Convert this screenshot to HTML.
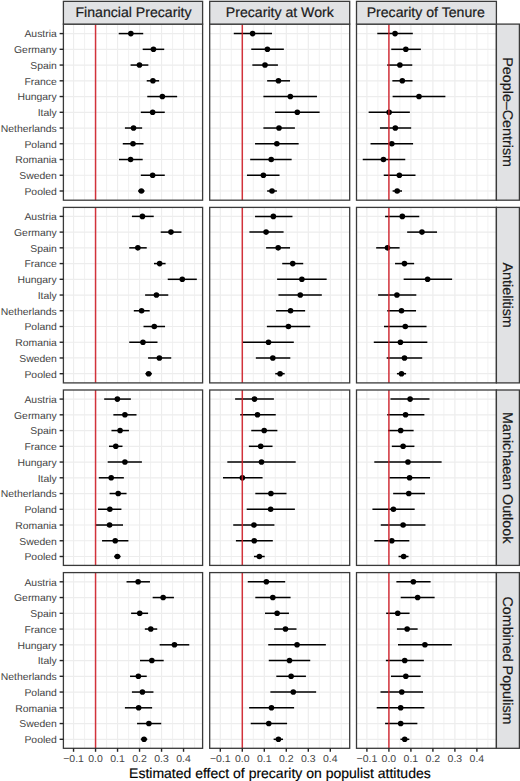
<!DOCTYPE html><html><head><meta charset="utf-8"><style>html,body{margin:0;padding:0;background:#fff;}svg{display:block;}text{font-family:"Liberation Sans",sans-serif;text-rendering:geometricPrecision;}</style></head><body>
<svg width="520" height="781" viewBox="0 0 520 781">
<rect x="0" y="0" width="520" height="781" fill="#fff"/>
<g stroke="#F1F1F1" stroke-width="0.9"><line x1="84.55" y1="24.1" x2="84.55" y2="200.2"/><line x1="106.55" y1="24.1" x2="106.55" y2="200.2"/><line x1="128.55" y1="24.1" x2="128.55" y2="200.2"/><line x1="150.55" y1="24.1" x2="150.55" y2="200.2"/><line x1="172.55" y1="24.1" x2="172.55" y2="200.2"/><line x1="194.55" y1="24.1" x2="194.55" y2="200.2"/></g>
<g stroke="#EDEDED" stroke-width="1.2"><line x1="73.55" y1="24.1" x2="73.55" y2="200.2"/><line x1="95.55" y1="24.1" x2="95.55" y2="200.2"/><line x1="117.55" y1="24.1" x2="117.55" y2="200.2"/><line x1="139.55" y1="24.1" x2="139.55" y2="200.2"/><line x1="161.55" y1="24.1" x2="161.55" y2="200.2"/><line x1="183.55" y1="24.1" x2="183.55" y2="200.2"/><line x1="63.4" y1="33.58" x2="202.6" y2="33.58"/><line x1="63.4" y1="49.32" x2="202.6" y2="49.32"/><line x1="63.4" y1="65.06" x2="202.6" y2="65.06"/><line x1="63.4" y1="80.81" x2="202.6" y2="80.81"/><line x1="63.4" y1="96.55" x2="202.6" y2="96.55"/><line x1="63.4" y1="112.29" x2="202.6" y2="112.29"/><line x1="63.4" y1="128.03" x2="202.6" y2="128.03"/><line x1="63.4" y1="143.77" x2="202.6" y2="143.77"/><line x1="63.4" y1="159.52" x2="202.6" y2="159.52"/><line x1="63.4" y1="175.26" x2="202.6" y2="175.26"/><line x1="63.4" y1="191" x2="202.6" y2="191"/></g>
<g stroke="#000" stroke-width="1.5"><line x1="118.73" y1="33.58" x2="143.23" y2="33.58"/><line x1="142.69" y1="49.32" x2="164.23" y2="49.32"/><line x1="130.58" y1="65.06" x2="148.35" y2="65.06"/><line x1="146.73" y1="80.81" x2="159.12" y2="80.81"/><line x1="147.27" y1="96.55" x2="177.15" y2="96.55"/><line x1="140.81" y1="112.29" x2="164.77" y2="112.29"/><line x1="124.92" y1="128.03" x2="142.15" y2="128.03"/><line x1="122.77" y1="143.77" x2="143.5" y2="143.77"/><line x1="119" y1="159.52" x2="142.69" y2="159.52"/><line x1="140.81" y1="175.26" x2="164.77" y2="175.26"/><line x1="138.12" y1="191" x2="144.58" y2="191"/></g>
<g fill="#000"><circle cx="130.85" cy="33.58" r="2.8"/><circle cx="153.46" cy="49.32" r="2.8"/><circle cx="139.46" cy="65.06" r="2.8"/><circle cx="152.92" cy="80.81" r="2.8"/><circle cx="162.35" cy="96.55" r="2.8"/><circle cx="152.65" cy="112.29" r="2.8"/><circle cx="133.54" cy="128.03" r="2.8"/><circle cx="133" cy="143.77" r="2.8"/><circle cx="130.58" cy="159.52" r="2.8"/><circle cx="152.65" cy="175.26" r="2.8"/><circle cx="141.35" cy="191" r="2.8"/></g>
<line x1="95.55" y1="24.1" x2="95.55" y2="200.2" stroke="#CE1822" stroke-width="1.5" stroke-opacity="0.88"/>
<rect x="63.4" y="24.1" width="139.2" height="176.1" fill="none" stroke="#3A3A3A" stroke-width="1.3"/>
<g stroke="#F1F1F1" stroke-width="0.9"><line x1="231.3" y1="24.1" x2="231.3" y2="200.2"/><line x1="253.3" y1="24.1" x2="253.3" y2="200.2"/><line x1="275.3" y1="24.1" x2="275.3" y2="200.2"/><line x1="297.3" y1="24.1" x2="297.3" y2="200.2"/><line x1="319.3" y1="24.1" x2="319.3" y2="200.2"/><line x1="341.3" y1="24.1" x2="341.3" y2="200.2"/></g>
<g stroke="#EDEDED" stroke-width="1.2"><line x1="220.3" y1="24.1" x2="220.3" y2="200.2"/><line x1="242.3" y1="24.1" x2="242.3" y2="200.2"/><line x1="264.3" y1="24.1" x2="264.3" y2="200.2"/><line x1="286.3" y1="24.1" x2="286.3" y2="200.2"/><line x1="308.3" y1="24.1" x2="308.3" y2="200.2"/><line x1="330.3" y1="24.1" x2="330.3" y2="200.2"/><line x1="209.7" y1="33.58" x2="349.7" y2="33.58"/><line x1="209.7" y1="49.32" x2="349.7" y2="49.32"/><line x1="209.7" y1="65.06" x2="349.7" y2="65.06"/><line x1="209.7" y1="80.81" x2="349.7" y2="80.81"/><line x1="209.7" y1="96.55" x2="349.7" y2="96.55"/><line x1="209.7" y1="112.29" x2="349.7" y2="112.29"/><line x1="209.7" y1="128.03" x2="349.7" y2="128.03"/><line x1="209.7" y1="143.77" x2="349.7" y2="143.77"/><line x1="209.7" y1="159.52" x2="349.7" y2="159.52"/><line x1="209.7" y1="175.26" x2="349.7" y2="175.26"/><line x1="209.7" y1="191" x2="349.7" y2="191"/></g>
<g stroke="#000" stroke-width="1.5"><line x1="233.77" y1="33.58" x2="272" y2="33.58"/><line x1="251.27" y1="49.32" x2="283.85" y2="49.32"/><line x1="252.35" y1="65.06" x2="277.92" y2="65.06"/><line x1="267.15" y1="80.81" x2="290.04" y2="80.81"/><line x1="263.38" y1="96.55" x2="316.96" y2="96.55"/><line x1="274.96" y1="112.29" x2="319.65" y2="112.29"/><line x1="263.38" y1="128.03" x2="294.88" y2="128.03"/><line x1="255.04" y1="143.77" x2="298.65" y2="143.77"/><line x1="250.19" y1="159.52" x2="291.65" y2="159.52"/><line x1="246.96" y1="175.26" x2="279.54" y2="175.26"/><line x1="267.15" y1="191" x2="276.85" y2="191"/></g>
<g fill="#000"><circle cx="252.62" cy="33.58" r="2.8"/><circle cx="267.42" cy="49.32" r="2.8"/><circle cx="265" cy="65.06" r="2.8"/><circle cx="278.46" cy="80.81" r="2.8"/><circle cx="290.31" cy="96.55" r="2.8"/><circle cx="297.31" cy="112.29" r="2.8"/><circle cx="279" cy="128.03" r="2.8"/><circle cx="276.85" cy="143.77" r="2.8"/><circle cx="271.19" cy="159.52" r="2.8"/><circle cx="263.38" cy="175.26" r="2.8"/><circle cx="272" cy="191" r="2.8"/></g>
<line x1="242.3" y1="24.1" x2="242.3" y2="200.2" stroke="#CE1822" stroke-width="1.5" stroke-opacity="0.88"/>
<rect x="209.7" y="24.1" width="140" height="176.1" fill="none" stroke="#3A3A3A" stroke-width="1.3"/>
<g stroke="#F1F1F1" stroke-width="0.9"><line x1="377.9" y1="24.1" x2="377.9" y2="200.2"/><line x1="399.9" y1="24.1" x2="399.9" y2="200.2"/><line x1="421.9" y1="24.1" x2="421.9" y2="200.2"/><line x1="443.9" y1="24.1" x2="443.9" y2="200.2"/><line x1="465.9" y1="24.1" x2="465.9" y2="200.2"/><line x1="487.9" y1="24.1" x2="487.9" y2="200.2"/></g>
<g stroke="#EDEDED" stroke-width="1.2"><line x1="366.9" y1="24.1" x2="366.9" y2="200.2"/><line x1="388.9" y1="24.1" x2="388.9" y2="200.2"/><line x1="410.9" y1="24.1" x2="410.9" y2="200.2"/><line x1="432.9" y1="24.1" x2="432.9" y2="200.2"/><line x1="454.9" y1="24.1" x2="454.9" y2="200.2"/><line x1="476.9" y1="24.1" x2="476.9" y2="200.2"/><line x1="356.5" y1="33.58" x2="496.4" y2="33.58"/><line x1="356.5" y1="49.32" x2="496.4" y2="49.32"/><line x1="356.5" y1="65.06" x2="496.4" y2="65.06"/><line x1="356.5" y1="80.81" x2="496.4" y2="80.81"/><line x1="356.5" y1="96.55" x2="496.4" y2="96.55"/><line x1="356.5" y1="112.29" x2="496.4" y2="112.29"/><line x1="356.5" y1="128.03" x2="496.4" y2="128.03"/><line x1="356.5" y1="143.77" x2="496.4" y2="143.77"/><line x1="356.5" y1="159.52" x2="496.4" y2="159.52"/><line x1="356.5" y1="175.26" x2="496.4" y2="175.26"/><line x1="356.5" y1="191" x2="496.4" y2="191"/></g>
<g stroke="#000" stroke-width="1.5"><line x1="377.27" y1="33.58" x2="412.81" y2="33.58"/><line x1="391.27" y1="49.32" x2="420.88" y2="49.32"/><line x1="387.23" y1="65.06" x2="412.27" y2="65.06"/><line x1="392.35" y1="80.81" x2="412.54" y2="80.81"/><line x1="392.62" y1="96.55" x2="445.38" y2="96.55"/><line x1="368.65" y1="112.29" x2="409.85" y2="112.29"/><line x1="379.96" y1="128.03" x2="411.19" y2="128.03"/><line x1="370.54" y1="143.77" x2="413.08" y2="143.77"/><line x1="362.73" y1="159.52" x2="405.27" y2="159.52"/><line x1="383.73" y1="175.26" x2="415.5" y2="175.26"/><line x1="392.62" y1="191" x2="402.04" y2="191"/></g>
<g fill="#000"><circle cx="395.04" cy="33.58" r="2.8"/><circle cx="405.81" cy="49.32" r="2.8"/><circle cx="399.88" cy="65.06" r="2.8"/><circle cx="402.31" cy="80.81" r="2.8"/><circle cx="419" cy="96.55" r="2.8"/><circle cx="389.12" cy="112.29" r="2.8"/><circle cx="395.31" cy="128.03" r="2.8"/><circle cx="391.81" cy="143.77" r="2.8"/><circle cx="383.46" cy="159.52" r="2.8"/><circle cx="399.35" cy="175.26" r="2.8"/><circle cx="397.19" cy="191" r="2.8"/></g>
<line x1="388.9" y1="24.1" x2="388.9" y2="200.2" stroke="#CE1822" stroke-width="1.5" stroke-opacity="0.88"/>
<rect x="356.5" y="24.1" width="139.9" height="176.1" fill="none" stroke="#3A3A3A" stroke-width="1.3"/>
<rect x="496.4" y="24.1" width="23" height="176.1" fill="#E1E2E4" stroke="#3A3A3A" stroke-width="1.3"/>
<text x="0" y="0" transform="translate(507.9 112.15) rotate(90) scale(1.022 1)" text-anchor="middle" font-size="14" fill="#1A1A1A" stroke="#1A1A1A" stroke-width="0.2" dy="5">People–Centrism</text>
<g stroke="#F1F1F1" stroke-width="0.9"><line x1="84.55" y1="207.4" x2="84.55" y2="382.9"/><line x1="106.55" y1="207.4" x2="106.55" y2="382.9"/><line x1="128.55" y1="207.4" x2="128.55" y2="382.9"/><line x1="150.55" y1="207.4" x2="150.55" y2="382.9"/><line x1="172.55" y1="207.4" x2="172.55" y2="382.9"/><line x1="194.55" y1="207.4" x2="194.55" y2="382.9"/></g>
<g stroke="#EDEDED" stroke-width="1.2"><line x1="73.55" y1="207.4" x2="73.55" y2="382.9"/><line x1="95.55" y1="207.4" x2="95.55" y2="382.9"/><line x1="117.55" y1="207.4" x2="117.55" y2="382.9"/><line x1="139.55" y1="207.4" x2="139.55" y2="382.9"/><line x1="161.55" y1="207.4" x2="161.55" y2="382.9"/><line x1="183.55" y1="207.4" x2="183.55" y2="382.9"/><line x1="63.4" y1="216.38" x2="202.6" y2="216.38"/><line x1="63.4" y1="232.11" x2="202.6" y2="232.11"/><line x1="63.4" y1="247.84" x2="202.6" y2="247.84"/><line x1="63.4" y1="263.58" x2="202.6" y2="263.58"/><line x1="63.4" y1="279.31" x2="202.6" y2="279.31"/><line x1="63.4" y1="295.04" x2="202.6" y2="295.04"/><line x1="63.4" y1="310.77" x2="202.6" y2="310.77"/><line x1="63.4" y1="326.5" x2="202.6" y2="326.5"/><line x1="63.4" y1="342.24" x2="202.6" y2="342.24"/><line x1="63.4" y1="357.97" x2="202.6" y2="357.97"/><line x1="63.4" y1="373.7" x2="202.6" y2="373.7"/></g>
<g stroke="#000" stroke-width="1.5"><line x1="131.92" y1="216.38" x2="153.73" y2="216.38"/><line x1="160.73" y1="232.11" x2="181.46" y2="232.11"/><line x1="129.23" y1="247.84" x2="146.73" y2="247.84"/><line x1="154" y1="263.58" x2="165.58" y2="263.58"/><line x1="167.73" y1="279.31" x2="196.81" y2="279.31"/><line x1="145.12" y1="295.04" x2="168.27" y2="295.04"/><line x1="133.81" y1="310.77" x2="149.69" y2="310.77"/><line x1="143.5" y1="326.5" x2="165.04" y2="326.5"/><line x1="129.23" y1="342.24" x2="157.5" y2="342.24"/><line x1="148.08" y1="357.97" x2="171.23" y2="357.97"/><line x1="145.38" y1="373.7" x2="151.85" y2="373.7"/></g>
<g fill="#000"><circle cx="142.42" cy="216.38" r="2.8"/><circle cx="170.96" cy="232.11" r="2.8"/><circle cx="137.85" cy="247.84" r="2.8"/><circle cx="159.65" cy="263.58" r="2.8"/><circle cx="182.27" cy="279.31" r="2.8"/><circle cx="156.42" cy="295.04" r="2.8"/><circle cx="141.62" cy="310.77" r="2.8"/><circle cx="154.27" cy="326.5" r="2.8"/><circle cx="142.96" cy="342.24" r="2.8"/><circle cx="159.38" cy="357.97" r="2.8"/><circle cx="148.62" cy="373.7" r="2.8"/></g>
<line x1="95.55" y1="207.4" x2="95.55" y2="382.9" stroke="#CE1822" stroke-width="1.5" stroke-opacity="0.88"/>
<rect x="63.4" y="207.4" width="139.2" height="175.5" fill="none" stroke="#3A3A3A" stroke-width="1.3"/>
<g stroke="#F1F1F1" stroke-width="0.9"><line x1="231.3" y1="207.4" x2="231.3" y2="382.9"/><line x1="253.3" y1="207.4" x2="253.3" y2="382.9"/><line x1="275.3" y1="207.4" x2="275.3" y2="382.9"/><line x1="297.3" y1="207.4" x2="297.3" y2="382.9"/><line x1="319.3" y1="207.4" x2="319.3" y2="382.9"/><line x1="341.3" y1="207.4" x2="341.3" y2="382.9"/></g>
<g stroke="#EDEDED" stroke-width="1.2"><line x1="220.3" y1="207.4" x2="220.3" y2="382.9"/><line x1="242.3" y1="207.4" x2="242.3" y2="382.9"/><line x1="264.3" y1="207.4" x2="264.3" y2="382.9"/><line x1="286.3" y1="207.4" x2="286.3" y2="382.9"/><line x1="308.3" y1="207.4" x2="308.3" y2="382.9"/><line x1="330.3" y1="207.4" x2="330.3" y2="382.9"/><line x1="209.7" y1="216.38" x2="349.7" y2="216.38"/><line x1="209.7" y1="232.11" x2="349.7" y2="232.11"/><line x1="209.7" y1="247.84" x2="349.7" y2="247.84"/><line x1="209.7" y1="263.58" x2="349.7" y2="263.58"/><line x1="209.7" y1="279.31" x2="349.7" y2="279.31"/><line x1="209.7" y1="295.04" x2="349.7" y2="295.04"/><line x1="209.7" y1="310.77" x2="349.7" y2="310.77"/><line x1="209.7" y1="326.5" x2="349.7" y2="326.5"/><line x1="209.7" y1="342.24" x2="349.7" y2="342.24"/><line x1="209.7" y1="357.97" x2="349.7" y2="357.97"/><line x1="209.7" y1="373.7" x2="349.7" y2="373.7"/></g>
<g stroke="#000" stroke-width="1.5"><line x1="255.04" y1="216.38" x2="292.46" y2="216.38"/><line x1="249.38" y1="232.11" x2="283.58" y2="232.11"/><line x1="266.08" y1="247.84" x2="290.04" y2="247.84"/><line x1="282.23" y1="263.58" x2="303.23" y2="263.58"/><line x1="277.12" y1="279.31" x2="326.65" y2="279.31"/><line x1="278.46" y1="295.04" x2="321.81" y2="295.04"/><line x1="276.04" y1="310.77" x2="305.12" y2="310.77"/><line x1="266.88" y1="326.5" x2="310.23" y2="326.5"/><line x1="242.65" y1="342.24" x2="293.81" y2="342.24"/><line x1="255.85" y1="357.97" x2="290.31" y2="357.97"/><line x1="275.23" y1="373.7" x2="284.65" y2="373.7"/></g>
<g fill="#000"><circle cx="273.35" cy="216.38" r="2.8"/><circle cx="266.08" cy="232.11" r="2.8"/><circle cx="278.19" cy="247.84" r="2.8"/><circle cx="292.73" cy="263.58" r="2.8"/><circle cx="301.88" cy="279.31" r="2.8"/><circle cx="300.27" cy="295.04" r="2.8"/><circle cx="290.58" cy="310.77" r="2.8"/><circle cx="288.42" cy="326.5" r="2.8"/><circle cx="268.5" cy="342.24" r="2.8"/><circle cx="272.81" cy="357.97" r="2.8"/><circle cx="280.08" cy="373.7" r="2.8"/></g>
<line x1="242.3" y1="207.4" x2="242.3" y2="382.9" stroke="#CE1822" stroke-width="1.5" stroke-opacity="0.88"/>
<rect x="209.7" y="207.4" width="140" height="175.5" fill="none" stroke="#3A3A3A" stroke-width="1.3"/>
<g stroke="#F1F1F1" stroke-width="0.9"><line x1="377.9" y1="207.4" x2="377.9" y2="382.9"/><line x1="399.9" y1="207.4" x2="399.9" y2="382.9"/><line x1="421.9" y1="207.4" x2="421.9" y2="382.9"/><line x1="443.9" y1="207.4" x2="443.9" y2="382.9"/><line x1="465.9" y1="207.4" x2="465.9" y2="382.9"/><line x1="487.9" y1="207.4" x2="487.9" y2="382.9"/></g>
<g stroke="#EDEDED" stroke-width="1.2"><line x1="366.9" y1="207.4" x2="366.9" y2="382.9"/><line x1="388.9" y1="207.4" x2="388.9" y2="382.9"/><line x1="410.9" y1="207.4" x2="410.9" y2="382.9"/><line x1="432.9" y1="207.4" x2="432.9" y2="382.9"/><line x1="454.9" y1="207.4" x2="454.9" y2="382.9"/><line x1="476.9" y1="207.4" x2="476.9" y2="382.9"/><line x1="356.5" y1="216.38" x2="496.4" y2="216.38"/><line x1="356.5" y1="232.11" x2="496.4" y2="232.11"/><line x1="356.5" y1="247.84" x2="496.4" y2="247.84"/><line x1="356.5" y1="263.58" x2="496.4" y2="263.58"/><line x1="356.5" y1="279.31" x2="496.4" y2="279.31"/><line x1="356.5" y1="295.04" x2="496.4" y2="295.04"/><line x1="356.5" y1="310.77" x2="496.4" y2="310.77"/><line x1="356.5" y1="326.5" x2="496.4" y2="326.5"/><line x1="356.5" y1="342.24" x2="496.4" y2="342.24"/><line x1="356.5" y1="357.97" x2="496.4" y2="357.97"/><line x1="356.5" y1="373.7" x2="496.4" y2="373.7"/></g>
<g stroke="#000" stroke-width="1.5"><line x1="385.08" y1="216.38" x2="419.27" y2="216.38"/><line x1="407.15" y1="232.11" x2="437.04" y2="232.11"/><line x1="376.19" y1="247.84" x2="399.62" y2="247.84"/><line x1="395.04" y1="263.58" x2="414.15" y2="263.58"/><line x1="403.65" y1="279.31" x2="452.12" y2="279.31"/><line x1="378.08" y1="295.04" x2="416.31" y2="295.04"/><line x1="387.23" y1="310.77" x2="416.04" y2="310.77"/><line x1="384" y1="326.5" x2="426.54" y2="326.5"/><line x1="373.77" y1="342.24" x2="427.35" y2="342.24"/><line x1="386.69" y1="357.97" x2="422.23" y2="357.97"/><line x1="396.92" y1="373.7" x2="406.08" y2="373.7"/></g>
<g fill="#000"><circle cx="402.31" cy="216.38" r="2.8"/><circle cx="421.96" cy="232.11" r="2.8"/><circle cx="387.5" cy="247.84" r="2.8"/><circle cx="404.46" cy="263.58" r="2.8"/><circle cx="427.62" cy="279.31" r="2.8"/><circle cx="396.92" cy="295.04" r="2.8"/><circle cx="401.5" cy="310.77" r="2.8"/><circle cx="405.27" cy="326.5" r="2.8"/><circle cx="400.42" cy="342.24" r="2.8"/><circle cx="404.46" cy="357.97" r="2.8"/><circle cx="401.5" cy="373.7" r="2.8"/></g>
<line x1="388.9" y1="207.4" x2="388.9" y2="382.9" stroke="#CE1822" stroke-width="1.5" stroke-opacity="0.88"/>
<rect x="356.5" y="207.4" width="139.9" height="175.5" fill="none" stroke="#3A3A3A" stroke-width="1.3"/>
<rect x="496.4" y="207.4" width="23" height="175.5" fill="#E1E2E4" stroke="#3A3A3A" stroke-width="1.3"/>
<text x="0" y="0" transform="translate(507.9 295.15) rotate(90) scale(1.022 1)" text-anchor="middle" font-size="14" fill="#1A1A1A" stroke="#1A1A1A" stroke-width="0.2" dy="5">Antielitism</text>
<g stroke="#F1F1F1" stroke-width="0.9"><line x1="84.55" y1="390" x2="84.55" y2="565.4"/><line x1="106.55" y1="390" x2="106.55" y2="565.4"/><line x1="128.55" y1="390" x2="128.55" y2="565.4"/><line x1="150.55" y1="390" x2="150.55" y2="565.4"/><line x1="172.55" y1="390" x2="172.55" y2="565.4"/><line x1="194.55" y1="390" x2="194.55" y2="565.4"/></g>
<g stroke="#EDEDED" stroke-width="1.2"><line x1="73.55" y1="390" x2="73.55" y2="565.4"/><line x1="95.55" y1="390" x2="95.55" y2="565.4"/><line x1="117.55" y1="390" x2="117.55" y2="565.4"/><line x1="139.55" y1="390" x2="139.55" y2="565.4"/><line x1="161.55" y1="390" x2="161.55" y2="565.4"/><line x1="183.55" y1="390" x2="183.55" y2="565.4"/><line x1="63.4" y1="399.08" x2="202.6" y2="399.08"/><line x1="63.4" y1="414.82" x2="202.6" y2="414.82"/><line x1="63.4" y1="430.56" x2="202.6" y2="430.56"/><line x1="63.4" y1="446.31" x2="202.6" y2="446.31"/><line x1="63.4" y1="462.05" x2="202.6" y2="462.05"/><line x1="63.4" y1="477.79" x2="202.6" y2="477.79"/><line x1="63.4" y1="493.53" x2="202.6" y2="493.53"/><line x1="63.4" y1="509.27" x2="202.6" y2="509.27"/><line x1="63.4" y1="525.02" x2="202.6" y2="525.02"/><line x1="63.4" y1="540.76" x2="202.6" y2="540.76"/><line x1="63.4" y1="556.5" x2="202.6" y2="556.5"/></g>
<g stroke="#000" stroke-width="1.5"><line x1="104.19" y1="399.08" x2="130.85" y2="399.08"/><line x1="113.35" y1="414.82" x2="136.5" y2="414.82"/><line x1="111.46" y1="430.56" x2="128.96" y2="430.56"/><line x1="109.04" y1="446.31" x2="122.5" y2="446.31"/><line x1="107.69" y1="462.05" x2="141.88" y2="462.05"/><line x1="98.81" y1="477.79" x2="123.85" y2="477.79"/><line x1="109.58" y1="493.53" x2="126.54" y2="493.53"/><line x1="98" y1="509.27" x2="121.42" y2="509.27"/><line x1="95.58" y1="525.02" x2="123.04" y2="525.02"/><line x1="102.04" y1="540.76" x2="128.42" y2="540.76"/><line x1="114.15" y1="556.5" x2="120.62" y2="556.5"/></g>
<g fill="#000"><circle cx="117.38" cy="399.08" r="2.8"/><circle cx="124.92" cy="414.82" r="2.8"/><circle cx="120.08" cy="430.56" r="2.8"/><circle cx="115.77" cy="446.31" r="2.8"/><circle cx="124.92" cy="462.05" r="2.8"/><circle cx="111.19" cy="477.79" r="2.8"/><circle cx="118.19" cy="493.53" r="2.8"/><circle cx="109.85" cy="509.27" r="2.8"/><circle cx="109.58" cy="525.02" r="2.8"/><circle cx="115.23" cy="540.76" r="2.8"/><circle cx="117.38" cy="556.5" r="2.8"/></g>
<line x1="95.55" y1="390" x2="95.55" y2="565.4" stroke="#CE1822" stroke-width="1.5" stroke-opacity="0.88"/>
<rect x="63.4" y="390" width="139.2" height="175.4" fill="none" stroke="#3A3A3A" stroke-width="1.3"/>
<g stroke="#F1F1F1" stroke-width="0.9"><line x1="231.3" y1="390" x2="231.3" y2="565.4"/><line x1="253.3" y1="390" x2="253.3" y2="565.4"/><line x1="275.3" y1="390" x2="275.3" y2="565.4"/><line x1="297.3" y1="390" x2="297.3" y2="565.4"/><line x1="319.3" y1="390" x2="319.3" y2="565.4"/><line x1="341.3" y1="390" x2="341.3" y2="565.4"/></g>
<g stroke="#EDEDED" stroke-width="1.2"><line x1="220.3" y1="390" x2="220.3" y2="565.4"/><line x1="242.3" y1="390" x2="242.3" y2="565.4"/><line x1="264.3" y1="390" x2="264.3" y2="565.4"/><line x1="286.3" y1="390" x2="286.3" y2="565.4"/><line x1="308.3" y1="390" x2="308.3" y2="565.4"/><line x1="330.3" y1="390" x2="330.3" y2="565.4"/><line x1="209.7" y1="399.08" x2="349.7" y2="399.08"/><line x1="209.7" y1="414.82" x2="349.7" y2="414.82"/><line x1="209.7" y1="430.56" x2="349.7" y2="430.56"/><line x1="209.7" y1="446.31" x2="349.7" y2="446.31"/><line x1="209.7" y1="462.05" x2="349.7" y2="462.05"/><line x1="209.7" y1="477.79" x2="349.7" y2="477.79"/><line x1="209.7" y1="493.53" x2="349.7" y2="493.53"/><line x1="209.7" y1="509.27" x2="349.7" y2="509.27"/><line x1="209.7" y1="525.02" x2="349.7" y2="525.02"/><line x1="209.7" y1="540.76" x2="349.7" y2="540.76"/><line x1="209.7" y1="556.5" x2="349.7" y2="556.5"/></g>
<g stroke="#000" stroke-width="1.5"><line x1="235.12" y1="399.08" x2="273.88" y2="399.08"/><line x1="240.23" y1="414.82" x2="275.77" y2="414.82"/><line x1="251.27" y1="430.56" x2="277.38" y2="430.56"/><line x1="248.85" y1="446.31" x2="272.54" y2="446.31"/><line x1="227.31" y1="462.05" x2="295.69" y2="462.05"/><line x1="223" y1="477.79" x2="262.58" y2="477.79"/><line x1="255.31" y1="493.53" x2="286.54" y2="493.53"/><line x1="246.69" y1="509.27" x2="294.88" y2="509.27"/><line x1="233.23" y1="525.02" x2="274.42" y2="525.02"/><line x1="235.92" y1="540.76" x2="272.81" y2="540.76"/><line x1="253.96" y1="556.5" x2="264.73" y2="556.5"/></g>
<g fill="#000"><circle cx="254.5" cy="399.08" r="2.8"/><circle cx="257.46" cy="414.82" r="2.8"/><circle cx="264.19" cy="430.56" r="2.8"/><circle cx="260.69" cy="446.31" r="2.8"/><circle cx="261.5" cy="462.05" r="2.8"/><circle cx="242.38" cy="477.79" r="2.8"/><circle cx="270.92" cy="493.53" r="2.8"/><circle cx="270.65" cy="509.27" r="2.8"/><circle cx="253.96" cy="525.02" r="2.8"/><circle cx="254.23" cy="540.76" r="2.8"/><circle cx="259.35" cy="556.5" r="2.8"/></g>
<line x1="242.3" y1="390" x2="242.3" y2="565.4" stroke="#CE1822" stroke-width="1.5" stroke-opacity="0.88"/>
<rect x="209.7" y="390" width="140" height="175.4" fill="none" stroke="#3A3A3A" stroke-width="1.3"/>
<g stroke="#F1F1F1" stroke-width="0.9"><line x1="377.9" y1="390" x2="377.9" y2="565.4"/><line x1="399.9" y1="390" x2="399.9" y2="565.4"/><line x1="421.9" y1="390" x2="421.9" y2="565.4"/><line x1="443.9" y1="390" x2="443.9" y2="565.4"/><line x1="465.9" y1="390" x2="465.9" y2="565.4"/><line x1="487.9" y1="390" x2="487.9" y2="565.4"/></g>
<g stroke="#EDEDED" stroke-width="1.2"><line x1="366.9" y1="390" x2="366.9" y2="565.4"/><line x1="388.9" y1="390" x2="388.9" y2="565.4"/><line x1="410.9" y1="390" x2="410.9" y2="565.4"/><line x1="432.9" y1="390" x2="432.9" y2="565.4"/><line x1="454.9" y1="390" x2="454.9" y2="565.4"/><line x1="476.9" y1="390" x2="476.9" y2="565.4"/><line x1="356.5" y1="399.08" x2="496.4" y2="399.08"/><line x1="356.5" y1="414.82" x2="496.4" y2="414.82"/><line x1="356.5" y1="430.56" x2="496.4" y2="430.56"/><line x1="356.5" y1="446.31" x2="496.4" y2="446.31"/><line x1="356.5" y1="462.05" x2="496.4" y2="462.05"/><line x1="356.5" y1="477.79" x2="496.4" y2="477.79"/><line x1="356.5" y1="493.53" x2="496.4" y2="493.53"/><line x1="356.5" y1="509.27" x2="496.4" y2="509.27"/><line x1="356.5" y1="525.02" x2="496.4" y2="525.02"/><line x1="356.5" y1="540.76" x2="496.4" y2="540.76"/><line x1="356.5" y1="556.5" x2="496.4" y2="556.5"/></g>
<g stroke="#000" stroke-width="1.5"><line x1="390.46" y1="399.08" x2="429.5" y2="399.08"/><line x1="387.23" y1="414.82" x2="424.38" y2="414.82"/><line x1="388.04" y1="430.56" x2="413.62" y2="430.56"/><line x1="391.81" y1="446.31" x2="414.42" y2="446.31"/><line x1="374.31" y1="462.05" x2="441.62" y2="462.05"/><line x1="389.38" y1="477.79" x2="430.04" y2="477.79"/><line x1="393.15" y1="493.53" x2="424.92" y2="493.53"/><line x1="372.42" y1="509.27" x2="414.69" y2="509.27"/><line x1="380.77" y1="525.02" x2="425.46" y2="525.02"/><line x1="374.31" y1="540.76" x2="409.31" y2="540.76"/><line x1="398.54" y1="556.5" x2="408.5" y2="556.5"/></g>
<g fill="#000"><circle cx="410.12" cy="399.08" r="2.8"/><circle cx="405.54" cy="414.82" r="2.8"/><circle cx="400.69" cy="430.56" r="2.8"/><circle cx="403.12" cy="446.31" r="2.8"/><circle cx="407.96" cy="462.05" r="2.8"/><circle cx="409.58" cy="477.79" r="2.8"/><circle cx="408.77" cy="493.53" r="2.8"/><circle cx="393.42" cy="509.27" r="2.8"/><circle cx="403.12" cy="525.02" r="2.8"/><circle cx="391.81" cy="540.76" r="2.8"/><circle cx="403.65" cy="556.5" r="2.8"/></g>
<line x1="388.9" y1="390" x2="388.9" y2="565.4" stroke="#CE1822" stroke-width="1.5" stroke-opacity="0.88"/>
<rect x="356.5" y="390" width="139.9" height="175.4" fill="none" stroke="#3A3A3A" stroke-width="1.3"/>
<rect x="496.4" y="390" width="23" height="175.4" fill="#E1E2E4" stroke="#3A3A3A" stroke-width="1.3"/>
<text x="0" y="0" transform="translate(507.9 477.7) rotate(90) scale(1.022 1)" text-anchor="middle" font-size="14" fill="#1A1A1A" stroke="#1A1A1A" stroke-width="0.2" dy="5">Manichaean Outlook</text>
<g stroke="#F1F1F1" stroke-width="0.9"><line x1="84.55" y1="572.6" x2="84.55" y2="748.3"/><line x1="106.55" y1="572.6" x2="106.55" y2="748.3"/><line x1="128.55" y1="572.6" x2="128.55" y2="748.3"/><line x1="150.55" y1="572.6" x2="150.55" y2="748.3"/><line x1="172.55" y1="572.6" x2="172.55" y2="748.3"/><line x1="194.55" y1="572.6" x2="194.55" y2="748.3"/></g>
<g stroke="#EDEDED" stroke-width="1.2"><line x1="73.55" y1="572.6" x2="73.55" y2="748.3"/><line x1="95.55" y1="572.6" x2="95.55" y2="748.3"/><line x1="117.55" y1="572.6" x2="117.55" y2="748.3"/><line x1="139.55" y1="572.6" x2="139.55" y2="748.3"/><line x1="161.55" y1="572.6" x2="161.55" y2="748.3"/><line x1="183.55" y1="572.6" x2="183.55" y2="748.3"/><line x1="63.4" y1="581.8" x2="202.6" y2="581.8"/><line x1="63.4" y1="597.55" x2="202.6" y2="597.55"/><line x1="63.4" y1="613.3" x2="202.6" y2="613.3"/><line x1="63.4" y1="629.05" x2="202.6" y2="629.05"/><line x1="63.4" y1="644.8" x2="202.6" y2="644.8"/><line x1="63.4" y1="660.55" x2="202.6" y2="660.55"/><line x1="63.4" y1="676.3" x2="202.6" y2="676.3"/><line x1="63.4" y1="692.05" x2="202.6" y2="692.05"/><line x1="63.4" y1="707.8" x2="202.6" y2="707.8"/><line x1="63.4" y1="723.55" x2="202.6" y2="723.55"/><line x1="63.4" y1="739.3" x2="202.6" y2="739.3"/></g>
<g stroke="#000" stroke-width="1.5"><line x1="126.54" y1="581.8" x2="149.96" y2="581.8"/><line x1="152.65" y1="597.55" x2="173.92" y2="597.55"/><line x1="131.12" y1="613.3" x2="148.08" y2="613.3"/><line x1="144.85" y1="629.05" x2="157.23" y2="629.05"/><line x1="159.65" y1="644.8" x2="189.27" y2="644.8"/><line x1="140" y1="660.55" x2="163.69" y2="660.55"/><line x1="130.04" y1="676.3" x2="146.73" y2="676.3"/><line x1="131.92" y1="692.05" x2="153.46" y2="692.05"/><line x1="124.92" y1="707.8" x2="152.12" y2="707.8"/><line x1="137.04" y1="723.55" x2="161.27" y2="723.55"/><line x1="140.81" y1="739.3" x2="147.27" y2="739.3"/></g>
<g fill="#000"><circle cx="138.12" cy="581.8" r="2.8"/><circle cx="163.15" cy="597.55" r="2.8"/><circle cx="139.73" cy="613.3" r="2.8"/><circle cx="150.77" cy="629.05" r="2.8"/><circle cx="174.46" cy="644.8" r="2.8"/><circle cx="151.85" cy="660.55" r="2.8"/><circle cx="138.38" cy="676.3" r="2.8"/><circle cx="142.42" cy="692.05" r="2.8"/><circle cx="138.65" cy="707.8" r="2.8"/><circle cx="148.88" cy="723.55" r="2.8"/><circle cx="144.04" cy="739.3" r="2.8"/></g>
<line x1="95.55" y1="572.6" x2="95.55" y2="748.3" stroke="#CE1822" stroke-width="1.5" stroke-opacity="0.88"/>
<rect x="63.4" y="572.6" width="139.2" height="175.7" fill="none" stroke="#3A3A3A" stroke-width="1.3"/>
<g stroke="#F1F1F1" stroke-width="0.9"><line x1="231.3" y1="572.6" x2="231.3" y2="748.3"/><line x1="253.3" y1="572.6" x2="253.3" y2="748.3"/><line x1="275.3" y1="572.6" x2="275.3" y2="748.3"/><line x1="297.3" y1="572.6" x2="297.3" y2="748.3"/><line x1="319.3" y1="572.6" x2="319.3" y2="748.3"/><line x1="341.3" y1="572.6" x2="341.3" y2="748.3"/></g>
<g stroke="#EDEDED" stroke-width="1.2"><line x1="220.3" y1="572.6" x2="220.3" y2="748.3"/><line x1="242.3" y1="572.6" x2="242.3" y2="748.3"/><line x1="264.3" y1="572.6" x2="264.3" y2="748.3"/><line x1="286.3" y1="572.6" x2="286.3" y2="748.3"/><line x1="308.3" y1="572.6" x2="308.3" y2="748.3"/><line x1="330.3" y1="572.6" x2="330.3" y2="748.3"/><line x1="209.7" y1="581.8" x2="349.7" y2="581.8"/><line x1="209.7" y1="597.55" x2="349.7" y2="597.55"/><line x1="209.7" y1="613.3" x2="349.7" y2="613.3"/><line x1="209.7" y1="629.05" x2="349.7" y2="629.05"/><line x1="209.7" y1="644.8" x2="349.7" y2="644.8"/><line x1="209.7" y1="660.55" x2="349.7" y2="660.55"/><line x1="209.7" y1="676.3" x2="349.7" y2="676.3"/><line x1="209.7" y1="692.05" x2="349.7" y2="692.05"/><line x1="209.7" y1="707.8" x2="349.7" y2="707.8"/><line x1="209.7" y1="723.55" x2="349.7" y2="723.55"/><line x1="209.7" y1="739.3" x2="349.7" y2="739.3"/></g>
<g stroke="#000" stroke-width="1.5"><line x1="247.77" y1="581.8" x2="285.19" y2="581.8"/><line x1="255.31" y1="597.55" x2="290.58" y2="597.55"/><line x1="265" y1="613.3" x2="288.96" y2="613.3"/><line x1="274.15" y1="629.05" x2="296.5" y2="629.05"/><line x1="268.23" y1="644.8" x2="325.85" y2="644.8"/><line x1="268.77" y1="660.55" x2="310.23" y2="660.55"/><line x1="276.31" y1="676.3" x2="305.92" y2="676.3"/><line x1="270.38" y1="692.05" x2="316.15" y2="692.05"/><line x1="249.12" y1="707.8" x2="294.08" y2="707.8"/><line x1="250.73" y1="723.55" x2="287.08" y2="723.55"/><line x1="273.62" y1="739.3" x2="283.04" y2="739.3"/></g>
<g fill="#000"><circle cx="266.35" cy="581.8" r="2.8"/><circle cx="272.81" cy="597.55" r="2.8"/><circle cx="277.12" cy="613.3" r="2.8"/><circle cx="285.46" cy="629.05" r="2.8"/><circle cx="297.04" cy="644.8" r="2.8"/><circle cx="289.5" cy="660.55" r="2.8"/><circle cx="291.12" cy="676.3" r="2.8"/><circle cx="293.27" cy="692.05" r="2.8"/><circle cx="271.46" cy="707.8" r="2.8"/><circle cx="268.77" cy="723.55" r="2.8"/><circle cx="278.46" cy="739.3" r="2.8"/></g>
<line x1="242.3" y1="572.6" x2="242.3" y2="748.3" stroke="#CE1822" stroke-width="1.5" stroke-opacity="0.88"/>
<rect x="209.7" y="572.6" width="140" height="175.7" fill="none" stroke="#3A3A3A" stroke-width="1.3"/>
<g stroke="#F1F1F1" stroke-width="0.9"><line x1="377.9" y1="572.6" x2="377.9" y2="748.3"/><line x1="399.9" y1="572.6" x2="399.9" y2="748.3"/><line x1="421.9" y1="572.6" x2="421.9" y2="748.3"/><line x1="443.9" y1="572.6" x2="443.9" y2="748.3"/><line x1="465.9" y1="572.6" x2="465.9" y2="748.3"/><line x1="487.9" y1="572.6" x2="487.9" y2="748.3"/></g>
<g stroke="#EDEDED" stroke-width="1.2"><line x1="366.9" y1="572.6" x2="366.9" y2="748.3"/><line x1="388.9" y1="572.6" x2="388.9" y2="748.3"/><line x1="410.9" y1="572.6" x2="410.9" y2="748.3"/><line x1="432.9" y1="572.6" x2="432.9" y2="748.3"/><line x1="454.9" y1="572.6" x2="454.9" y2="748.3"/><line x1="476.9" y1="572.6" x2="476.9" y2="748.3"/><line x1="356.5" y1="581.8" x2="496.4" y2="581.8"/><line x1="356.5" y1="597.55" x2="496.4" y2="597.55"/><line x1="356.5" y1="613.3" x2="496.4" y2="613.3"/><line x1="356.5" y1="629.05" x2="496.4" y2="629.05"/><line x1="356.5" y1="644.8" x2="496.4" y2="644.8"/><line x1="356.5" y1="660.55" x2="496.4" y2="660.55"/><line x1="356.5" y1="676.3" x2="496.4" y2="676.3"/><line x1="356.5" y1="692.05" x2="496.4" y2="692.05"/><line x1="356.5" y1="707.8" x2="496.4" y2="707.8"/><line x1="356.5" y1="723.55" x2="496.4" y2="723.55"/><line x1="356.5" y1="739.3" x2="496.4" y2="739.3"/></g>
<g stroke="#000" stroke-width="1.5"><line x1="396.38" y1="581.8" x2="430.58" y2="581.8"/><line x1="400.69" y1="597.55" x2="434.62" y2="597.55"/><line x1="386.15" y1="613.3" x2="409.58" y2="613.3"/><line x1="396.92" y1="629.05" x2="417.65" y2="629.05"/><line x1="398" y1="644.8" x2="451.85" y2="644.8"/><line x1="385.88" y1="660.55" x2="423.85" y2="660.55"/><line x1="391" y1="676.3" x2="420.62" y2="676.3"/><line x1="380.5" y1="692.05" x2="423.04" y2="692.05"/><line x1="376.73" y1="707.8" x2="424.38" y2="707.8"/><line x1="385.08" y1="723.55" x2="417.38" y2="723.55"/><line x1="400.42" y1="739.3" x2="409.31" y2="739.3"/></g>
<g fill="#000"><circle cx="413.35" cy="581.8" r="2.8"/><circle cx="417.65" cy="597.55" r="2.8"/><circle cx="397.73" cy="613.3" r="2.8"/><circle cx="407.15" cy="629.05" r="2.8"/><circle cx="424.92" cy="644.8" r="2.8"/><circle cx="404.73" cy="660.55" r="2.8"/><circle cx="405.81" cy="676.3" r="2.8"/><circle cx="401.77" cy="692.05" r="2.8"/><circle cx="400.69" cy="707.8" r="2.8"/><circle cx="400.69" cy="723.55" r="2.8"/><circle cx="404.73" cy="739.3" r="2.8"/></g>
<line x1="388.9" y1="572.6" x2="388.9" y2="748.3" stroke="#CE1822" stroke-width="1.5" stroke-opacity="0.88"/>
<rect x="356.5" y="572.6" width="139.9" height="175.7" fill="none" stroke="#3A3A3A" stroke-width="1.3"/>
<rect x="496.4" y="572.6" width="23" height="175.7" fill="#E1E2E4" stroke="#3A3A3A" stroke-width="1.3"/>
<text x="0" y="0" transform="translate(507.9 660.45) rotate(90) scale(1.022 1)" text-anchor="middle" font-size="14" fill="#1A1A1A" stroke="#1A1A1A" stroke-width="0.2" dy="5">Combined Populism</text>
<rect x="63.4" y="1.35" width="139.2" height="22.75" fill="#E1E2E4" stroke="#3A3A3A" stroke-width="1.3"/>
<text transform="translate(133.5 17.45) scale(1.008 1)" text-anchor="middle" font-size="14" fill="#1A1A1A" stroke="#1A1A1A" stroke-width="0.2">Financial Precarity</text>
<rect x="209.7" y="1.35" width="140" height="22.75" fill="#E1E2E4" stroke="#3A3A3A" stroke-width="1.3"/>
<text transform="translate(279.8 17.45) scale(1.008 1)" text-anchor="middle" font-size="14" fill="#1A1A1A" stroke="#1A1A1A" stroke-width="0.2">Precarity at Work</text>
<rect x="356.5" y="1.35" width="139.9" height="22.75" fill="#E1E2E4" stroke="#3A3A3A" stroke-width="1.3"/>
<text transform="translate(425.75 17.45) scale(1.008 1)" text-anchor="middle" font-size="14" fill="#1A1A1A" stroke="#1A1A1A" stroke-width="0.2">Precarity of Tenure</text>
<g stroke="#262626" stroke-width="1.4"><line x1="59.6" y1="33.58" x2="63.4" y2="33.58"/><line x1="59.6" y1="49.32" x2="63.4" y2="49.32"/><line x1="59.6" y1="65.06" x2="63.4" y2="65.06"/><line x1="59.6" y1="80.81" x2="63.4" y2="80.81"/><line x1="59.6" y1="96.55" x2="63.4" y2="96.55"/><line x1="59.6" y1="112.29" x2="63.4" y2="112.29"/><line x1="59.6" y1="128.03" x2="63.4" y2="128.03"/><line x1="59.6" y1="143.77" x2="63.4" y2="143.77"/><line x1="59.6" y1="159.52" x2="63.4" y2="159.52"/><line x1="59.6" y1="175.26" x2="63.4" y2="175.26"/><line x1="59.6" y1="191" x2="63.4" y2="191"/></g>
<g font-size="10" fill="#444444" text-anchor="end"><text transform="translate(56.8 37.48) scale(1.04 1)">Austria</text><text transform="translate(56.8 53.22) scale(1.04 1)">Germany</text><text transform="translate(56.8 68.96) scale(1.04 1)">Spain</text><text transform="translate(56.8 84.71) scale(1.04 1)">France</text><text transform="translate(56.8 100.45) scale(1.04 1)">Hungary</text><text transform="translate(56.8 116.19) scale(1.04 1)">Italy</text><text transform="translate(56.8 131.93) scale(1.04 1)">Netherlands</text><text transform="translate(56.8 147.67) scale(1.04 1)">Poland</text><text transform="translate(56.8 163.42) scale(1.04 1)">Romania</text><text transform="translate(56.8 179.16) scale(1.04 1)">Sweden</text><text transform="translate(56.8 194.9) scale(1.04 1)">Pooled</text></g>
<g stroke="#262626" stroke-width="1.4"><line x1="59.6" y1="216.38" x2="63.4" y2="216.38"/><line x1="59.6" y1="232.11" x2="63.4" y2="232.11"/><line x1="59.6" y1="247.84" x2="63.4" y2="247.84"/><line x1="59.6" y1="263.58" x2="63.4" y2="263.58"/><line x1="59.6" y1="279.31" x2="63.4" y2="279.31"/><line x1="59.6" y1="295.04" x2="63.4" y2="295.04"/><line x1="59.6" y1="310.77" x2="63.4" y2="310.77"/><line x1="59.6" y1="326.5" x2="63.4" y2="326.5"/><line x1="59.6" y1="342.24" x2="63.4" y2="342.24"/><line x1="59.6" y1="357.97" x2="63.4" y2="357.97"/><line x1="59.6" y1="373.7" x2="63.4" y2="373.7"/></g>
<g font-size="10" fill="#444444" text-anchor="end"><text transform="translate(56.8 220.28) scale(1.04 1)">Austria</text><text transform="translate(56.8 236.01) scale(1.04 1)">Germany</text><text transform="translate(56.8 251.74) scale(1.04 1)">Spain</text><text transform="translate(56.8 267.48) scale(1.04 1)">France</text><text transform="translate(56.8 283.21) scale(1.04 1)">Hungary</text><text transform="translate(56.8 298.94) scale(1.04 1)">Italy</text><text transform="translate(56.8 314.67) scale(1.04 1)">Netherlands</text><text transform="translate(56.8 330.4) scale(1.04 1)">Poland</text><text transform="translate(56.8 346.14) scale(1.04 1)">Romania</text><text transform="translate(56.8 361.87) scale(1.04 1)">Sweden</text><text transform="translate(56.8 377.6) scale(1.04 1)">Pooled</text></g>
<g stroke="#262626" stroke-width="1.4"><line x1="59.6" y1="399.08" x2="63.4" y2="399.08"/><line x1="59.6" y1="414.82" x2="63.4" y2="414.82"/><line x1="59.6" y1="430.56" x2="63.4" y2="430.56"/><line x1="59.6" y1="446.31" x2="63.4" y2="446.31"/><line x1="59.6" y1="462.05" x2="63.4" y2="462.05"/><line x1="59.6" y1="477.79" x2="63.4" y2="477.79"/><line x1="59.6" y1="493.53" x2="63.4" y2="493.53"/><line x1="59.6" y1="509.27" x2="63.4" y2="509.27"/><line x1="59.6" y1="525.02" x2="63.4" y2="525.02"/><line x1="59.6" y1="540.76" x2="63.4" y2="540.76"/><line x1="59.6" y1="556.5" x2="63.4" y2="556.5"/></g>
<g font-size="10" fill="#444444" text-anchor="end"><text transform="translate(56.8 402.98) scale(1.04 1)">Austria</text><text transform="translate(56.8 418.72) scale(1.04 1)">Germany</text><text transform="translate(56.8 434.46) scale(1.04 1)">Spain</text><text transform="translate(56.8 450.21) scale(1.04 1)">France</text><text transform="translate(56.8 465.95) scale(1.04 1)">Hungary</text><text transform="translate(56.8 481.69) scale(1.04 1)">Italy</text><text transform="translate(56.8 497.43) scale(1.04 1)">Netherlands</text><text transform="translate(56.8 513.17) scale(1.04 1)">Poland</text><text transform="translate(56.8 528.92) scale(1.04 1)">Romania</text><text transform="translate(56.8 544.66) scale(1.04 1)">Sweden</text><text transform="translate(56.8 560.4) scale(1.04 1)">Pooled</text></g>
<g stroke="#262626" stroke-width="1.4"><line x1="59.6" y1="581.8" x2="63.4" y2="581.8"/><line x1="59.6" y1="597.55" x2="63.4" y2="597.55"/><line x1="59.6" y1="613.3" x2="63.4" y2="613.3"/><line x1="59.6" y1="629.05" x2="63.4" y2="629.05"/><line x1="59.6" y1="644.8" x2="63.4" y2="644.8"/><line x1="59.6" y1="660.55" x2="63.4" y2="660.55"/><line x1="59.6" y1="676.3" x2="63.4" y2="676.3"/><line x1="59.6" y1="692.05" x2="63.4" y2="692.05"/><line x1="59.6" y1="707.8" x2="63.4" y2="707.8"/><line x1="59.6" y1="723.55" x2="63.4" y2="723.55"/><line x1="59.6" y1="739.3" x2="63.4" y2="739.3"/></g>
<g font-size="10" fill="#444444" text-anchor="end"><text transform="translate(56.8 585.7) scale(1.04 1)">Austria</text><text transform="translate(56.8 601.45) scale(1.04 1)">Germany</text><text transform="translate(56.8 617.2) scale(1.04 1)">Spain</text><text transform="translate(56.8 632.95) scale(1.04 1)">France</text><text transform="translate(56.8 648.7) scale(1.04 1)">Hungary</text><text transform="translate(56.8 664.45) scale(1.04 1)">Italy</text><text transform="translate(56.8 680.2) scale(1.04 1)">Netherlands</text><text transform="translate(56.8 695.95) scale(1.04 1)">Poland</text><text transform="translate(56.8 711.7) scale(1.04 1)">Romania</text><text transform="translate(56.8 727.45) scale(1.04 1)">Sweden</text><text transform="translate(56.8 743.2) scale(1.04 1)">Pooled</text></g>
<g stroke="#262626" stroke-width="1.4"><line x1="73.55" y1="748.3" x2="73.55" y2="751.8"/><line x1="95.55" y1="748.3" x2="95.55" y2="751.8"/><line x1="117.55" y1="748.3" x2="117.55" y2="751.8"/><line x1="139.55" y1="748.3" x2="139.55" y2="751.8"/><line x1="161.55" y1="748.3" x2="161.55" y2="751.8"/><line x1="183.55" y1="748.3" x2="183.55" y2="751.8"/><line x1="220.3" y1="748.3" x2="220.3" y2="751.8"/><line x1="242.3" y1="748.3" x2="242.3" y2="751.8"/><line x1="264.3" y1="748.3" x2="264.3" y2="751.8"/><line x1="286.3" y1="748.3" x2="286.3" y2="751.8"/><line x1="308.3" y1="748.3" x2="308.3" y2="751.8"/><line x1="330.3" y1="748.3" x2="330.3" y2="751.8"/><line x1="366.9" y1="748.3" x2="366.9" y2="751.8"/><line x1="388.9" y1="748.3" x2="388.9" y2="751.8"/><line x1="410.9" y1="748.3" x2="410.9" y2="751.8"/><line x1="432.9" y1="748.3" x2="432.9" y2="751.8"/><line x1="454.9" y1="748.3" x2="454.9" y2="751.8"/><line x1="476.9" y1="748.3" x2="476.9" y2="751.8"/></g>
<g font-size="10" fill="#444444" text-anchor="middle"><text transform="translate(73.55 762.2) scale(1.05 1)">−0.1</text><text transform="translate(95.55 762.2) scale(1.05 1)">0.0</text><text transform="translate(117.55 762.2) scale(1.05 1)">0.1</text><text transform="translate(139.55 762.2) scale(1.05 1)">0.2</text><text transform="translate(161.55 762.2) scale(1.05 1)">0.3</text><text transform="translate(183.55 762.2) scale(1.05 1)">0.4</text><text transform="translate(220.3 762.2) scale(1.05 1)">−0.1</text><text transform="translate(242.3 762.2) scale(1.05 1)">0.0</text><text transform="translate(264.3 762.2) scale(1.05 1)">0.1</text><text transform="translate(286.3 762.2) scale(1.05 1)">0.2</text><text transform="translate(308.3 762.2) scale(1.05 1)">0.3</text><text transform="translate(330.3 762.2) scale(1.05 1)">0.4</text><text transform="translate(366.9 762.2) scale(1.05 1)">−0.1</text><text transform="translate(388.9 762.2) scale(1.05 1)">0.0</text><text transform="translate(410.9 762.2) scale(1.05 1)">0.1</text><text transform="translate(432.9 762.2) scale(1.05 1)">0.2</text><text transform="translate(454.9 762.2) scale(1.05 1)">0.3</text><text transform="translate(476.9 762.2) scale(1.05 1)">0.4</text></g>
<text x="279.9" y="777.6" text-anchor="middle" font-size="14" fill="#000" stroke="#000" stroke-width="0.15">Estimated effect of precarity on populist attitudes</text>
</svg></body></html>
